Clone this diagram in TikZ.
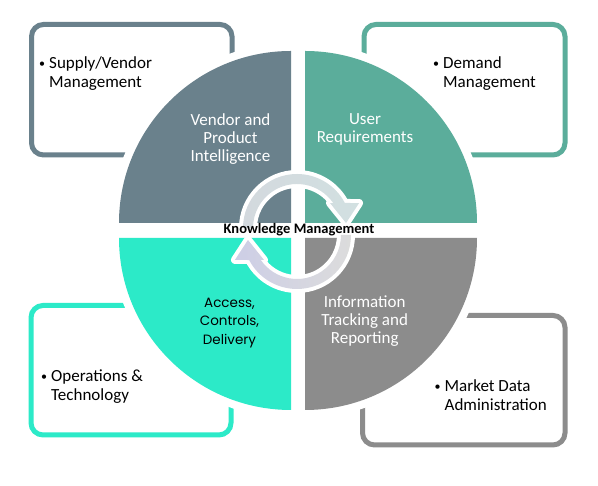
\documentclass[tikz,border=0pt]{standalone}
\usepackage{fontspec}
\setmainfont{Carlito}
\newfontfamily\accfont{Poppins}
\definecolor{slate}{HTML}{6A818C}
\definecolor{tealq}{HTML}{5BAD9B}
\definecolor{aqua}{HTML}{2CEAC8}
\definecolor{midgray}{HTML}{8C8C8C}
\definecolor{arrA}{HTML}{D3D9DE}
\definecolor{arrB}{HTML}{D2E0E1}
\definecolor{arrC}{HTML}{CDCEE6}
\definecolor{arrD}{HTML}{DCDCDC}
\newcommand\bul{\makebox[10pt][l]{\raisebox{1.5pt}{\fontsize{12}{12}\selectfont\textbullet}}}
\begin{document}
\begin{tikzpicture}[x=1pt,y=1pt,
  boxframe/.style={line width=5pt, rounded corners=12pt},
  halo/.style={fill=white},
  boxtext/.style={anchor=base west, inner sep=0pt, text=black, font=\fontsize{17}{19}\selectfont},
  quadtext/.style={anchor=base, inner sep=0pt, text=white, font=\fontsize{17}{18}\selectfont},
  acctext/.style={anchor=base, inner sep=0pt, text=black, font=\accfont\fontsize{13.5}{18.5}\selectfont},
  cyc/.style={preaction={draw=white, line width=8pt, line join=round}}
]
\fill[white] (0,0) rectangle (598,486);
\path[use as bounding box] (0,0) rectangle (598,486);

% outer boxes
\draw[boxframe, slate]   (31.5,331) rectangle (232,461.5);
\draw[boxframe, tealq]   (364,331) rectangle (565,461.5);
\draw[boxframe, aqua]    (31,51) rectangle (231,180.5);
\draw[boxframe, midgray] (362.5,41) rectangle (565,170.5);

% white halos
\fill[halo] (291,263) -- ++(-180,0) arc[start angle=180,end angle=90,radius=180] -- cycle;
\fill[halo] (305,263) -- ++(0,180) arc[start angle=90,end angle=0,radius=180] -- cycle;
\fill[halo] (291,248) -- ++(-180,0) arc[start angle=180,end angle=270,radius=180] -- cycle;
\fill[halo] (305,248) -- ++(180,0) arc[start angle=0,end angle=-90,radius=180] -- cycle;

% quadrants
\fill[slate]   (291,263) -- ++(-172,0) arc[start angle=180,end angle=90,radius=172] -- cycle;
\fill[tealq]   (305,263) -- ++(0,172) arc[start angle=90,end angle=0,radius=172] -- cycle;
\fill[aqua]    (291,248) -- ++(-172,0) arc[start angle=180,end angle=270,radius=172] -- cycle;
\fill[midgray] (305,248) -- ++(172,0) arc[start angle=0,end angle=-90,radius=172] -- cycle;

% box texts
\node[boxtext] (supply) at (39,417) {\begin{tabular}[t]{@{}l@{}l@{}}\bul&Supply/Vendor\\&Management\end{tabular}};
\node[boxtext] (demand) at (433,417) {\begin{tabular}[t]{@{}l@{}l@{}}\bul&Demand\\&Management\end{tabular}};
\node[boxtext] (ops) at (41,104.3) {\begin{tabular}[t]{@{}l@{}l@{}}\bul&Operations \&\\&Technology\end{tabular}};
\node[boxtext] (market) at (434.5,94) {\begin{tabular}[t]{@{}l@{}l@{}}\bul&Market Data\\&Administration\end{tabular}};

% quadrant texts
\node[quadtext] (vpi) at (230.5,360) {\begin{tabular}[t]{@{}c@{}}Vendor and\\Product\\Intelligence\end{tabular}};
\node[quadtext] (user) at (365,361) {\begin{tabular}[t]{@{}c@{}}User\\Requirements\end{tabular}};
\node[acctext] (acc) at (229.5,178.7) {\begin{tabular}[t]{@{}c@{}}Access,\\Controls,\\Delivery\end{tabular}};
\node[quadtext] (info) at (364.7,178.3) {\begin{tabular}[t]{@{}c@{}}Information\\Tracking and\\Reporting\end{tabular}};

% cycle arrows
\begin{scope}[shift={(297,258)}]
\path[cyc, left color=arrA, right color=arrB]
  (180:54) arc[start angle=180,end angle=27.6,radius=54]
  -- (21.9:66.9) -- (5.8:49.3) -- (37.1:41.4) -- (34.6:44)
  arc[start angle=34.6,end angle=180,radius=44] -- cycle;
\end{scope}
\begin{scope}[shift={(297,251)}]
\path[cyc, left color=arrC, right color=arrD]
  (0:54) arc[start angle=0,end angle=-152.4,radius=54]
  -- (-158.1:66.9) -- (-174.2:49.3) -- (-142.9:41.4) -- (-145.4:44)
  arc[start angle=-145.4,end angle=0,radius=44] -- cycle;
\end{scope}

\node[anchor=base, inner sep=0pt, font=\bfseries\fontsize{14.5}{14.5}\selectfont] (km) at (299,252.7) {Knowledge Management};
\end{tikzpicture}
\end{document}
